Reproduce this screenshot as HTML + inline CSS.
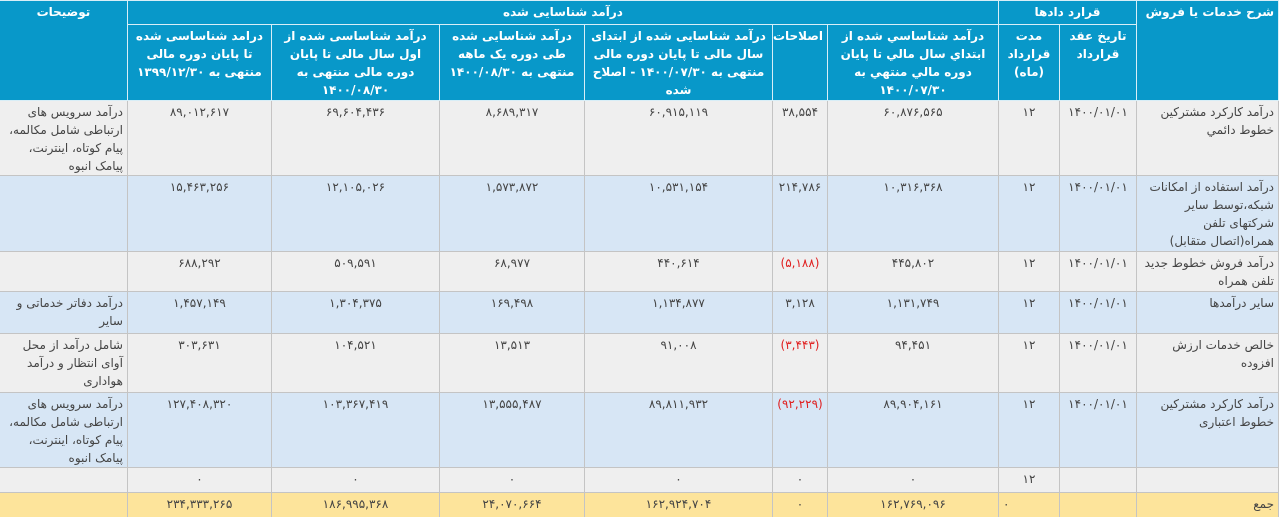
<!DOCTYPE html>
<html lang="fa" dir="rtl">
<head>
<meta charset="utf-8">
<style>
html,body{margin:0;padding:0;background:#fff;width:1279px;height:517px;overflow:hidden}
table{border-collapse:collapse;table-layout:fixed;width:1279px;font-family:"DejaVu Sans","Liberation Sans",sans-serif;font-size:12px;color:#444}
td,th{border:1px solid #c4c4c4;padding:2px 4px 0 4px;vertical-align:top;overflow:hidden;line-height:18px}
th{background:#0898c9;color:#fff;font-weight:bold;text-align:center;border-color:#d8eef7}
th.r{text-align:right}
td{text-align:center}
td.d{text-align:right}
tr.g td{background:#efefef}
tr.b td{background:#d7e6f5}
tr.t td{background:#fde49b}
.neg{color:#e02020}
</style>
</head>
<body>
<table>
<colgroup>
<col style="width:142px"><col style="width:77px"><col style="width:61px"><col style="width:171px"><col style="width:55px"><col style="width:188px"><col style="width:145px"><col style="width:168px"><col style="width:144px"><col style="width:128px">
</colgroup>
<tr style="height:24px">
<th class="r" rowspan="2">شرح خدمات یا فروش</th>
<th colspan="2">قرارد دادها</th>
<th colspan="6">درآمد شناسایی شده</th>
<th rowspan="2">توضیحات</th>
</tr>
<tr style="height:76px">
<th>تاریخ عقد قرارداد</th>
<th>مدت قرارداد (ماه)</th>
<th>درآمد شناساسي شده از ابتداي سال مالي تا پايان دوره مالي منتهي به ۱۴۰۰/۰۷/۳۰</th>
<th>اصلاحات</th>
<th>درآمد شناسایی شده از ابتدای سال مالی تا پایان دوره مالی منتهی به ۱۴۰۰/۰۷/۳۰ - اصلاح شده</th>
<th>درآمد شناسایی شده طی دوره یک ماهه منتهی به ۱۴۰۰/۰۸/۳۰</th>
<th>درآمد شناساسی شده از اول سال مالی تا پایان دوره مالی منتهی به ۱۴۰۰/۰۸/۳۰</th>
<th>درامد شناساسی شده تا پایان دوره مالی منتهی به ۱۳۹۹/۱۲/۳۰</th>
</tr>
<tr class="g" style="height:75px">
<td class="d">درآمد کارکرد مشترکین خطوط دائمي</td><td>۱۴۰۰/۰۱/۰۱</td><td>۱۲</td><td>۶۰,۸۷۶,۵۶۵</td><td>۳۸,۵۵۴</td><td>۶۰,۹۱۵,۱۱۹</td><td>۸,۶۸۹,۳۱۷</td><td>۶۹,۶۰۴,۴۳۶</td><td>۸۹,۰۱۲,۶۱۷</td><td class="d">درآمد سرویس های ارتباطی شامل مکالمه، پیام کوتاه، اینترنت، پیامک انبوه</td>
</tr>
<tr class="b" style="height:76px">
<td class="d">درآمد استفاده از امکانات شبکه،توسط سایر شرکتهای تلفن همراه(اتصال متقابل)</td><td>۱۴۰۰/۰۱/۰۱</td><td>۱۲</td><td>۱۰,۳۱۶,۳۶۸</td><td>۲۱۴,۷۸۶</td><td>۱۰,۵۳۱,۱۵۴</td><td>۱,۵۷۳,۸۷۲</td><td>۱۲,۱۰۵,۰۲۶</td><td>۱۵,۴۶۳,۲۵۶</td><td></td>
</tr>
<tr class="g" style="height:40px">
<td class="d">درآمد فروش خطوط جدید تلفن همراه</td><td>۱۴۰۰/۰۱/۰۱</td><td>۱۲</td><td>۴۴۵,۸۰۲</td><td class="neg">(۵,۱۸۸)</td><td>۴۴۰,۶۱۴</td><td>۶۸,۹۷۷</td><td>۵۰۹,۵۹۱</td><td>۶۸۸,۲۹۲</td><td></td>
</tr>
<tr class="b" style="height:42px">
<td class="d">سایر درآمدها</td><td>۱۴۰۰/۰۱/۰۱</td><td>۱۲</td><td>۱,۱۳۱,۷۴۹</td><td>۳,۱۲۸</td><td>۱,۱۳۴,۸۷۷</td><td>۱۶۹,۴۹۸</td><td>۱,۳۰۴,۳۷۵</td><td>۱,۴۵۷,۱۴۹</td><td class="d">درآمد دفاتر خدماتی و سایر</td>
</tr>
<tr class="g" style="height:59px">
<td class="d">خالص خدمات ارزش افزوده</td><td>۱۴۰۰/۰۱/۰۱</td><td>۱۲</td><td>۹۴,۴۵۱</td><td class="neg">(۳,۴۴۳)</td><td>۹۱,۰۰۸</td><td>۱۳,۵۱۳</td><td>۱۰۴,۵۲۱</td><td>۳۰۳,۶۳۱</td><td class="d">شامل درآمد از محل آوای انتظار و درآمد هواداری</td>
</tr>
<tr class="b" style="height:75px">
<td class="d">درآمد کارکرد مشترکین خطوط اعتباری</td><td>۱۴۰۰/۰۱/۰۱</td><td>۱۲</td><td>۸۹,۹۰۴,۱۶۱</td><td class="neg">(۹۲,۲۲۹)</td><td>۸۹,۸۱۱,۹۳۲</td><td>۱۳,۵۵۵,۴۸۷</td><td>۱۰۳,۳۶۷,۴۱۹</td><td>۱۲۷,۴۰۸,۳۲۰</td><td class="d">درآمد سرویس های ارتباطی شامل مکالمه، پیام کوتاه، اینترنت، پیامک انبوه</td>
</tr>
<tr class="g" style="height:25px">
<td></td><td></td><td>۱۲</td><td>۰</td><td>۰</td><td>۰</td><td>۰</td><td>۰</td><td>۰</td><td></td>
</tr>
<tr class="t" style="height:25px">
<td class="d">جمع</td><td></td><td style="text-align:left">۰</td><td>۱۶۲,۷۶۹,۰۹۶</td><td>۰</td><td>۱۶۲,۹۲۴,۷۰۴</td><td>۲۴,۰۷۰,۶۶۴</td><td>۱۸۶,۹۹۵,۳۶۸</td><td>۲۳۴,۳۳۳,۲۶۵</td><td></td>
</tr>
</table>
</body>
</html>
